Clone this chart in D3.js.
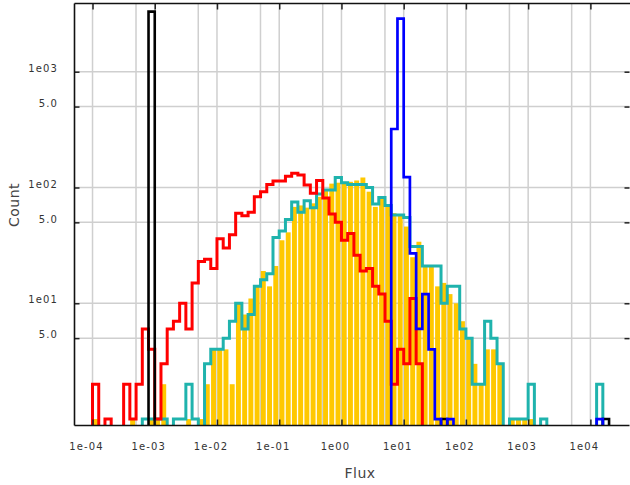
<!DOCTYPE html>
<html><head><meta charset="utf-8">
<script src="https://cdn.jsdelivr.net/npm/d3@7/dist/d3.min.js"></script>
<style>
html,body{margin:0;padding:0;background:#fff;}
svg{display:block;}
text{font-family:"DejaVu Sans",sans-serif;}
</style></head><body>
<script>
// ---- data (bins: 10 per decade, first bin starts at 1e-4) ----
const binStartExp = -4;
const binsPerDecade = 10;

const goldCounts = [
  1,0,0,0,0,0,1,0,0,1, 1,2,0,0,0,1,0,1,2,4,
  4,4,2,10,8,11,14,19,14,21, 35,41,68,70,67,73,83,95,108,110,
  112,112,115,122,92,68,82,68,60,57, 46,25,34,21,21,14,15,12,10,7,
  5,3,2,4,4,3,0,1,1,1, 1
];
const tealCounts = [
  0,0,0,0,0,0,0,0,1,1, 1,1,0,1,1,2,1,0,3,4,
  4,5,7,10,6,8,14,16,18,37, 42,53,75,61,77,67,88,95,95,122,
  110,106,106,106,100,72,82,70,58,58, 55,31,31,21,21,21,10,14,14,6,
  5,2,2,7,5,3,0,1,1,1, 2,0,1,0,0,0,0,0,0,0, 0,2,0,0
];
const redCounts = [
  2,0,1,0,0,2,1,2,6,4, 1,3,6,7,10,6,15,23,24,20,
  36,30,39,60,57,61,83,92,106,114, 114,125,133,128,105,89,115,81,59,50,
  35,40,26,19,20,14,12,7,2,4, 3,11,3
];
const blueCounts = [
  0,0,0,0,0,0,0,0,0,0, 0,0,0,0,0,0,0,0,0,0,
  0,0,0,0,0,0,0,0,0,0, 0,0,0,0,0,0,0,0,0,0,
  0,0,0,0,0,0,0,0,320,2870, 123,27,6,12,4,1,0,1,0,0,
  0,0,0,0,0,0,0,0,0,0, 0,0,0,0,0,0,0,0,0,0, 0,1,0,0
];
const blackCounts = [
  0,0,0,0,0,0,0,0,0,3300, 0,0,0,0,0,0,0,0,0,0,
  0,0,0,0,0,0,0,0,0,0, 0,0,0,0,0,0,0,0,0,0,
  0,0,0,0,0,0,0,0,0,0, 0,0,0,0,0,0,1,0,0,0,
  0,0,0,0,0,0,0,0,0,0, 0,0,0,0,0,0,0,0,0,0, 0,0,1,0
];

const xTickValues = [1e-4,1e-3,1e-2,1e-1,1,10,100,1e3,1e4];
const xTickLabels = ["1e-04","1e-03","1e-02","1e-01","1e00","1e01","1e02","1e03","1e04"];
const xGridValues = [1e-4,5e-4,1e-3,5e-3,1e-2,5e-2,1e-1,5e-1,1,5,10,50,100,500,1e3,5e3,1e4];
const yTickValues = [5,10,50,100,500,1000];
const yTickLabels = ["5.0","1e01","5.0","1e02","5.0","1e03"];
const xTitle = "Flux", yTitle = "Count";

// ---- layout ----
const W = 630, H = 485;
const L = 74.5, R = 629.5, T = 3.5, B = 425.5;

const x = d3.scaleLog().domain([5.135e-5, 4.25e4]).range([L, R]);
const y = d3.scaleLog().domain([0.88, 3882]).range([B, T]);
const edge = k => Math.pow(10, binStartExp + k / binsPerDecade);

const svg = d3.select("body").append("svg").attr("width", W).attr("height", H);
svg.append("defs").append("clipPath").attr("id","plot")
  .append("rect").attr("x",L).attr("y",T).attr("width",R-L).attr("height",B-T);

// grid
const grid = svg.append("g").attr("stroke","#cfcfcf").attr("stroke-width",1.5);
grid.selectAll("line.v").data(xGridValues).join("line")
  .attr("x1",d=>x(d)).attr("x2",d=>x(d)).attr("y1",T).attr("y2",B);
grid.selectAll("line.h").data(yTickValues).join("line")
  .attr("y1",d=>y(d)).attr("y2",d=>y(d)).attr("x1",L).attr("x2",R);

const plot = svg.append("g").attr("clip-path","url(#plot)");

// gold bars
plot.append("g").attr("fill","#FFC800")
  .selectAll("rect").data(goldCounts.map((c,k)=>({c,k})).filter(d=>d.c>0)).join("rect")
  .attr("x", d => x(edge(d.k)) + 0.3)
  .attr("width", d => x(edge(d.k+1)) - x(edge(d.k)) - 1.3)
  .attr("y", d => y(d.c))
  .attr("height", d => B - y(d.c));

function stepPath(counts){
  let p = "";
  let k = 0;
  while (k < counts.length){
    if (counts[k] > 0){
      p += `M${x(edge(k))},${B}`;
      while (k < counts.length && counts[k] > 0){
        p += `V${y(counts[k])}H${x(edge(k+1))}`;
        k++;
      }
      p += `V${B}`;
    } else k++;
  }
  return p;
}
const series = [
  {counts: tealCounts, color: "#1FB3AD", w: 3},
  {counts: redCounts, color: "#FF0000", w: 3},
  {counts: blackCounts, color: "#000000", w: 2.6},
  {counts: blueCounts, color: "#0000FF", w: 2.7}
];
plot.selectAll("path.s").data(series).join("path")
  .attr("d", d => stepPath(d.counts))
  .attr("fill","none").attr("stroke", d=>d.color).attr("stroke-width", d=>d.w)
  .attr("stroke-linejoin","miter");

// axes
const labelFont = g => g.selectAll("text").attr("font-size",10).attr("fill","#333")
  .attr("letter-spacing","1.1px").attr("font-family","DejaVu Sans, sans-serif");

const xAxisB = svg.append("g").attr("transform",`translate(0,${B})`)
  .call(d3.axisBottom(x).tickValues(xTickValues).tickFormat((d,i)=>xTickLabels[i])
        .tickSize(-6).tickPadding(17.5));
xAxisB.select(".domain").remove();
xAxisB.selectAll("line").attr("stroke","#222").attr("stroke-width",1.5);
xAxisB.call(labelFont);
xAxisB.selectAll("text").attr("x",-6.5);

const xAxisT = svg.append("g").attr("transform",`translate(0,${T})`)
  .call(d3.axisTop(x).tickValues(xTickValues).tickFormat("").tickSize(-6));
xAxisT.select(".domain").remove();
xAxisT.selectAll("line").attr("stroke","#222").attr("stroke-width",1.5);

const yAxisL = svg.append("g").attr("transform",`translate(${L},0)`)
  .call(d3.axisLeft(y).tickValues(yTickValues).tickFormat((d,i)=>yTickLabels[i])
        .tickSize(-5).tickPadding(16.5));
yAxisL.select(".domain").remove();
yAxisL.selectAll("line").attr("stroke","#222").attr("stroke-width",1.5);
yAxisL.call(labelFont);
yAxisL.selectAll("text").attr("dy","-0.3");

const yAxisR = svg.append("g").attr("transform",`translate(${R},0)`)
  .call(d3.axisRight(y).tickValues(yTickValues).tickFormat("").tickSize(-5));
yAxisR.select(".domain").remove();
yAxisR.selectAll("line").attr("stroke","#222").attr("stroke-width",1.5);

// frame lines (left, bottom, top)
const frame = svg.append("g").attr("stroke","#111").attr("stroke-width",1.6);
frame.append("line").attr("x1",L).attr("x2",L).attr("y1",T).attr("y2",B);
frame.append("line").attr("x1",L).attr("x2",R).attr("y1",B).attr("y2",B);
frame.append("line").attr("x1",L).attr("x2",W).attr("y1",T).attr("y2",T);

// titles
svg.append("text").attr("x",(L+R)/2+8).attr("y",478).attr("text-anchor","middle")
  .attr("font-size",14).attr("fill","#444").attr("letter-spacing","0.5px").text(xTitle);
svg.append("text").attr("transform","translate(19,205) rotate(-90)").attr("text-anchor","middle")
  .attr("font-size",14).attr("fill","#444").attr("letter-spacing","0.5px").text(yTitle);
</script>
</body></html>
